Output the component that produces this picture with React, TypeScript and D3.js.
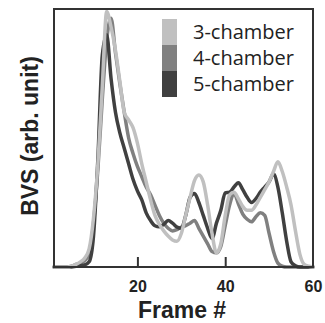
import React, { useRef, useEffect } from 'react';
import * as d3 from 'd3';

// frame numbers 1..60 and the BVS traces (arb. units, 0..1)
const frames = d3.range(1, 61);

const chamber3 = [
  0, 0, 0, 0, 0.003, 0.01, 0.02, 0.035, 0.07, 0.19,
  0.4, 0.7, 0.99, 0.93, 0.84, 0.72, 0.6, 0.57, 0.54, 0.48,
  0.4, 0.33, 0.26, 0.2, 0.165, 0.14, 0.12, 0.105, 0.1, 0.13,
  0.2, 0.27, 0.335, 0.357, 0.33, 0.24, 0.13, 0.055, 0.09, 0.2,
  0.28, 0.29, 0.265, 0.235, 0.22, 0.22, 0.24, 0.27, 0.3, 0.33,
  0.37, 0.408, 0.37, 0.31, 0.24, 0.14, 0.05, 0.01, 0.003, 0,
];

const chamber4 = [
  0, 0, 0, 0, 0.003, 0.01, 0.015, 0.025, 0.05, 0.17,
  0.38, 0.65, 0.88, 0.964, 0.83, 0.71, 0.6, 0.5, 0.44, 0.39,
  0.35, 0.31, 0.28, 0.24, 0.2, 0.17, 0.15, 0.14, 0.145, 0.155,
  0.16, 0.17, 0.18, 0.15, 0.12, 0.09, 0.06, 0.055, 0.08, 0.16,
  0.24, 0.285, 0.245, 0.205, 0.185, 0.175, 0.195, 0.21, 0.2, 0.13,
  0.06, 0.015, 0.003, 0, 0, 0, 0, 0, 0, 0,
];

const chamber5 = [
  0, 0, 0, 0, 0, 0.003, 0.005, 0.008, 0.02, 0.12,
  0.42, 0.82, 0.9, 0.73, 0.6, 0.52, 0.46, 0.4, 0.34, 0.295,
  0.26, 0.21, 0.18, 0.16, 0.156, 0.165, 0.18, 0.17, 0.155, 0.15,
  0.2, 0.27, 0.285, 0.25, 0.2, 0.15, 0.11, 0.17, 0.22, 0.287,
  0.29, 0.31, 0.327, 0.3, 0.27, 0.25, 0.265, 0.29, 0.31, 0.33,
  0.36, 0.31, 0.21, 0.1, 0.02, 0.005, 0, 0, 0, 0,
];

const seriesNames = ['3-chamber', '4-chamber', '5-chamber'];
const seriesColors = ['#c0c0c0', '#808080', '#404040'];
const xTicks = [20, 40, 60];

const App: React.FC = () => {
  const svgRef = useRef<SVGSVGElement | null>(null);
  const width = 325;
  const height = 323;
  const margin = { top: 9, right: 12, bottom: 56, left: 54 };

  useEffect(() => {
    const svg = d3.select(svgRef.current);
    svg.selectAll('*').remove();

    const x = d3.scaleLinear().domain([1, 60]).range([margin.left, width - margin.right]);
    const y = d3.scaleLinear().domain([0, 1]).range([height - margin.bottom, margin.top]);

    const line = d3.line<number>()
      .x((_, i) => x(frames[i]))
      .y(d => y(d))
      .curve(d3.curveMonotoneX);

    // draw order: 4, 5, then 3 on top
    const drawOrder = [1, 2, 0];
    const all = [chamber3, chamber4, chamber5];
    drawOrder.forEach(k => {
      svg.append('path')
        .datum(all[k])
        .attr('d', line)
        .attr('fill', 'none')
        .attr('stroke', seriesColors[k])
        .attr('stroke-width', 3.5)
        .attr('stroke-linejoin', 'round')
        .attr('stroke-linecap', 'round');
    });

    // frame
    svg.append('rect')
      .attr('x', x(1))
      .attr('y', y(1))
      .attr('width', x(60) - x(1))
      .attr('height', y(0) - y(1))
      .attr('fill', 'none')
      .attr('stroke', '#333')
      .attr('stroke-width', 2);

    // inward ticks
    const axis = d3.axisBottom(x).tickValues(xTicks).tickSizeInner(-10).tickSizeOuter(0).tickPadding(14);
    const gx = svg.append('g').attr('transform', `translate(0,${y(0)})`).call(axis);
    gx.select('.domain').remove();
    gx.selectAll('line').attr('stroke', '#333').attr('stroke-width', 2)
      .filter(d => d === 60).remove();
    gx.selectAll('text')
      .attr('font-family', 'Liberation Sans, Arial, sans-serif')
      .attr('font-weight', 'bold')
      .attr('font-size', 16)
      .attr('fill', '#222');

    svg.append('text')
      .attr('x', 182)
      .attr('y', 318)
      .attr('text-anchor', 'middle')
      .attr('font-family', 'Liberation Sans, Arial, sans-serif')
      .attr('font-weight', 'bold')
      .attr('font-size', 23)
      .attr('fill', '#222')
      .text('Frame #');

    svg.append('text')
      .attr('transform', 'translate(38,136) rotate(-90)')
      .attr('text-anchor', 'middle')
      .attr('font-family', 'Liberation Sans, Arial, sans-serif')
      .attr('font-weight', 'bold')
      .attr('font-size', 23)
      .attr('fill', '#222')
      .text('BVS (arb. unit)');

    // legend
    const lg = svg.append('g');
    seriesNames.forEach((name, i) => {
      lg.append('rect')
        .attr('x', 162)
        .attr('y', 19 + i * 26)
        .attr('width', 15)
        .attr('height', 26)
        .attr('fill', seriesColors[i]);
      lg.append('text')
        .attr('x', 193)
        .attr('y', 39 + i * 26)
        .attr('font-family', 'Open Sans, sans-serif')
        .attr('font-size', 20)
        .attr('fill', '#222')
        .text(name);
    });
  }, []);

  return (
    <svg
      ref={svgRef}
      width={width}
      height={height}
      style={{ position: 'absolute', left: 0, top: 0, background: '#fff' }}
    />
  );
};

export default App;
